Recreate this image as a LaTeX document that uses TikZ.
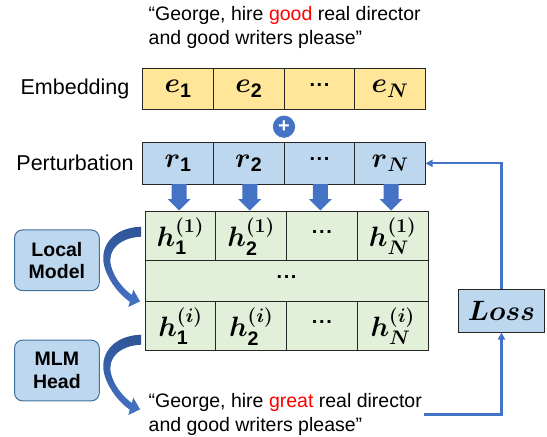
\RequirePackage{fix-cm}
\documentclass[tikz,border=0pt]{standalone}
\usepackage{amsmath,amssymb}
\usepackage{fontspec}
\setmainfont{Liberation Sans}
\usetikzlibrary{positioning, arrows.meta, calc}

\definecolor{embyellow}{HTML}{FFE699}
\definecolor{pertblue}{HTML}{BDD7EE}
\definecolor{hidgreen}{HTML}{E2F0D9}
\definecolor{linkblue}{HTML}{4472C4}
\definecolor{darkblue}{HTML}{2F5597}
\definecolor{edgeblue}{HTML}{41719C}

\newcommand{\bv}[1]{\boldsymbol{#1}}
\newcommand{\celldots}{\raisebox{0.3em}{\fontsize{20}{20}\selectfont\bfseries.\kern1.6pt.\kern1.6pt.}}

\begin{document}
\begin{tikzpicture}[
  x=1pt, y=-1pt,
  >={Triangle[length=7pt,width=7pt]},
  cell/.style={
    draw=black!85, line width=1pt, minimum width=70.7pt,
    inner sep=0pt, outer sep=0pt, font=\fontsize{28}{30}\selectfont
  },
  embcell/.style ={cell, fill=embyellow, minimum height=41pt},
  pertcell/.style={cell, fill=pertblue, minimum height=41.3pt},
  hidcell/.style ={cell, fill=hidgreen, minimum width=70.75pt, minimum height=49pt},
  rowlabel/.style={font=\fontsize{21.5}{24}\selectfont},
  quote/.style={align=left, anchor=west, inner sep=0pt,
    font=\fontsize{19.5}{24}\selectfont},
  module/.style={
    draw=edgeblue, line width=1pt, fill=pertblue, rounded corners=8pt,
    minimum width=84.8pt, minimum height=60.7pt, align=center,
    font=\fontsize{19.5}{22.3}\selectfont\bfseries
  },
  lossbox/.style={draw=black!85, line width=1pt, fill=pertblue,
    minimum width=86pt, minimum height=43pt, font=\fontsize{28}{30}\selectfont},
  plus/.style={circle, fill=linkblue, draw=white, line width=0.6pt,
    minimum size=23pt, inner sep=0pt, text=white,
    font=\fontsize{20}{20}\selectfont\bfseries},
  feedback/.style={draw=linkblue, line width=2.1pt, ->},
  blockarrow/.style={fill=linkblue},
  curvedarrow/.pic={
    \shade[top color=darkblue, bottom color=linkblue]
      (0,0) .. controls (-29,1) and (-43,21) .. (-36,42)
      .. controls (-31,57) and (-20,69) .. (-11.2,75.1)
      -- (-12.7,80.3) -- (-1,74.7) -- (-7.7,63) -- (-9.2,68.3)
      .. controls (-18,62) and (-27,51) .. (-30,39)
      .. controls (-34,23) and (-21,11) .. (0,10) -- cycle;
  },
]

\fill[white] (0,0) rectangle (547,437);
\useasboundingbox (0,0) rectangle (547,437);

% input sentence
\node[quote] (inq) at (148.5,27.7)
  {“George, hire \textcolor{red}{good} real director\\and good writers please”};

% embedding row
\node[embcell] (e1) at (178.05,88.8) {$\bv{e}_{\mathbf{1}}$};
\node[embcell, right=0pt of e1] (e2) {$\bv{e}_{\mathbf{2}}$};
\node[embcell, right=0pt of e2] (e3) {\celldots};
\node[embcell, right=0pt of e3] (e4) {$\bv{e}_{\bv{N}}$};
\node[rowlabel] (embl) at (75,88.8) {Embedding};

\node[plus] (plus) at (284,126.7) {+};

% perturbation row
\node[pertcell] (r1) at (178.05,163.35) {$\bv{r}_{\mathbf{1}}$};
\node[pertcell, right=0pt of r1] (r2) {$\bv{r}_{\mathbf{2}}$};
\node[pertcell, right=0pt of r2] (r3) {\celldots};
\node[pertcell, right=0pt of r3] (r4) {$\bv{r}_{\bv{N}}$};
\node[rowlabel] (pertl) at (75,163.3) {Perturbation};

% hidden states
\node[hidcell] (h1) at (180.4,236.2) {$\bv{h}_{\mathbf{1}}^{\bv{(1)}}$};
\node[hidcell, right=0pt of h1] (h2) {$\bv{h}_{\mathbf{2}}^{\bv{(1)}}$};
\node[hidcell, right=0pt of h2] (h3) {\celldots};
\node[hidcell, right=0pt of h3] (h4) {$\bv{h}_{\bv{N}}^{\bv{(1)}}$};
\node[hidcell, minimum width=283pt, minimum height=41pt] (hmid)
  at ($(h1.south west)!0.5!(h4.south east)+(0,20.5)$) {\celldots};
\node[hidcell] (hb1) at (180.4,326.2) {$\bv{h}_{\mathbf{1}}^{\bv{(i)}}$};
\node[hidcell, right=0pt of hb1] (hb2) {$\bv{h}_{\mathbf{2}}^{\bv{(i)}}$};
\node[hidcell, right=0pt of hb2] (hb3) {\celldots};
\node[hidcell, right=0pt of hb3] (hb4) {$\bv{h}_{\bv{N}}^{\bv{(i)}}$};

\foreach \i in {1,...,4}
  \fill[blockarrow] ($(r\i.south)+(-6.5,0)$) -- ++(15,0) -- ++(0,15) -- ++(4,0)
    -- ($(r\i.south)+(1,26.5)$) -- ++(-11.5,-11.5) -- ++(4,0) -- cycle;

% modules
\node[module] (local) at (56.9,260.3) {Local\\Model};
\node[module] (mlm) at (56.9,370.5) {MLM\\Head};
\pic at ($(h1.north west)+(-4,15)$) {curvedarrow};
\pic at ($(hb1.north west)+(-4,33)$) {curvedarrow};

% output sentence and loss
\node[quote] (outq) at (148.5,414.5)
  {“George, hire \textcolor{red}{great} real director\\and good writers please”};
\node[lossbox] (loss) at (501.5,310.5) {$\bv{Loss}$};

\draw[feedback] ($(outq.east)+(2,0)$) -| (loss.south);
\draw[feedback] (loss.north) |- (r4.east);

\end{tikzpicture}
\end{document}
